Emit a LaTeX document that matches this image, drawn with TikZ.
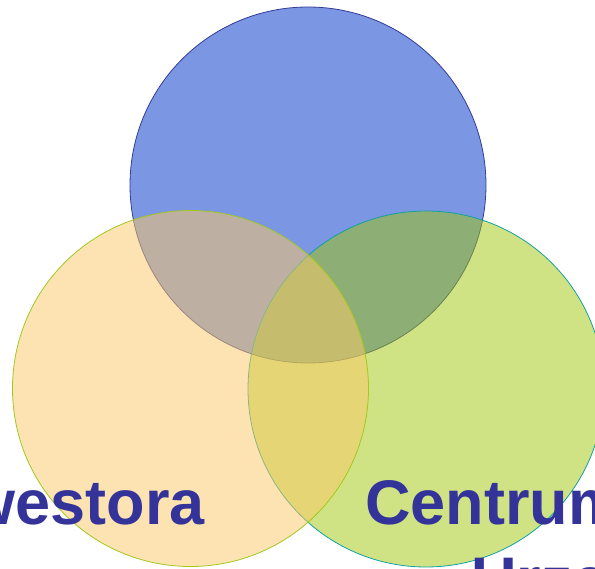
\documentclass[tikz,border=0pt]{standalone}
\usepackage{fontspec}
\setmainfont{Liberation Sans}
\definecolor{bluefill}{RGB}{123,150,226}
\definecolor{bluedraw}{RGB}{52,60,150}
\definecolor{orangefill}{RGB}{251,201,105}
\definecolor{orangedraw}{RGB}{160,200,30}
\definecolor{greenfill}{RGB}{159,199,9}
\definecolor{greendraw}{RGB}{20,160,160}
\definecolor{txt}{RGB}{51,51,153}
\tikzset{
  setcircle/.style={circle, minimum size=356pt, inner sep=0pt, line width=0.8pt},
  bigtext/.style={inner sep=0pt, text=txt, font=\bfseries\fontsize{63}{76}\selectfont}
}
\begin{document}
\begin{tikzpicture}[x=1pt,y=-1pt]
\useasboundingbox (0,0) rectangle (595,569);
\node[setcircle, fill=bluefill, draw=bluedraw] (blue) at (308,185) {};
\node[setcircle, fill=greenfill, fill opacity=0.5, draw=greendraw] (green) at (426,389) {};
\node[setcircle, fill=orangefill, fill opacity=0.52, draw=orangedraw] (orange) at (190.5,388.5) {};
\node[bigtext, anchor=base east] (inw) at (205,525) {Inwestora};
\node[bigtext, anchor=base west] (cen) at (365,525) {Centrum};
\node[bigtext, anchor=base west] (urz) at (471,601) {Urzędu};
\end{tikzpicture}
\end{document}
